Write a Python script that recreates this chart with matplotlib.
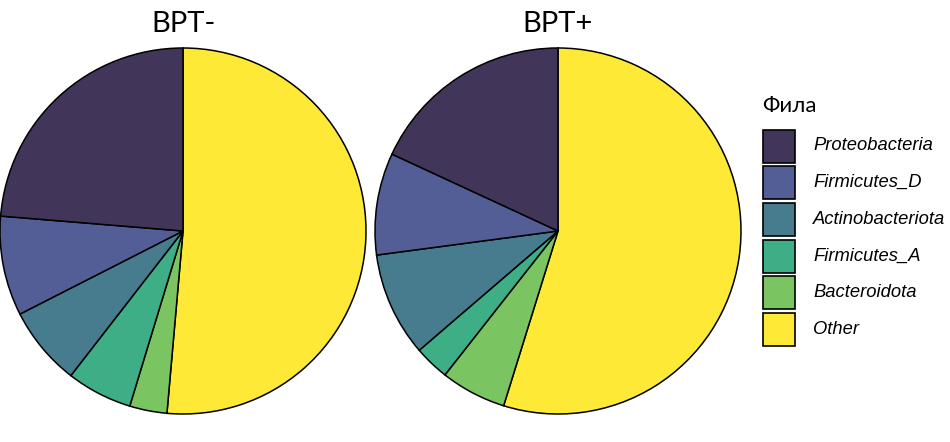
import matplotlib.pyplot as plt
from matplotlib.patches import Rectangle

# доли филумов (порядок по часовой стрелке от 12 часов)
phyla = ["Other", "Bacteroidota", "Firmicutes_A", "Actinobacteriota", "Firmicutes_D", "Proteobacteria"]
bpt_minus = [0.514, 0.033, 0.058, 0.070, 0.088, 0.237]
bpt_plus = [0.548, 0.058, 0.031, 0.092, 0.090, 0.181]
groups = ["BPT-", "BPT+"]

colors = {
    "Proteobacteria": "#413659",
    "Firmicutes_D": "#535e97",
    "Actinobacteriota": "#477c8e",
    "Firmicutes_A": "#3dae86",
    "Bacteroidota": "#7ac462",
    "Other": "#fde936",
}
legend_order = ["Proteobacteria", "Firmicutes_D", "Actinobacteriota", "Firmicutes_A", "Bacteroidota", "Other"]

W, H = 950, 442
fig = plt.figure(figsize=(W / 100, H / 100), dpi=100)
ax = fig.add_axes([0, 0, 1, 1])

centers = [(183, H - 231), (558, H - 231)]
for vals, c, name in zip([bpt_minus, bpt_plus], centers, groups):
    ax.pie(vals, startangle=90, counterclock=False, center=c, radius=183,
           colors=[colors[p] for p in phyla],
           wedgeprops=dict(edgecolor="black", linewidth=1.1))
    ax.text(c[0], H - 24, name, ha="center", va="center", fontsize=21,
            family=["Lato", "DejaVu Sans"])

# легенда
ax.text(762, H - 106, "Фила", ha="left", va="center", fontsize=16,
        family=["Lato", "DejaVu Sans"])
for i, p in enumerate(legend_order):
    y0 = H - (129.5 + 36.7 * i) - 33
    ax.add_patch(Rectangle((763, y0), 32, 33, facecolor=colors[p],
                           edgecolor="black", linewidth=1.2))
    ax.text(813, y0 + 16.5, p, ha="left", va="center", fontsize=13.2,
            style="italic", family=["Liberation Sans", "DejaVu Sans"])

ax.set_xlim(0, W)
ax.set_ylim(0, H)
ax.set_aspect("equal")
ax.axis("off")

fig.savefig("out.png", dpi=100)
